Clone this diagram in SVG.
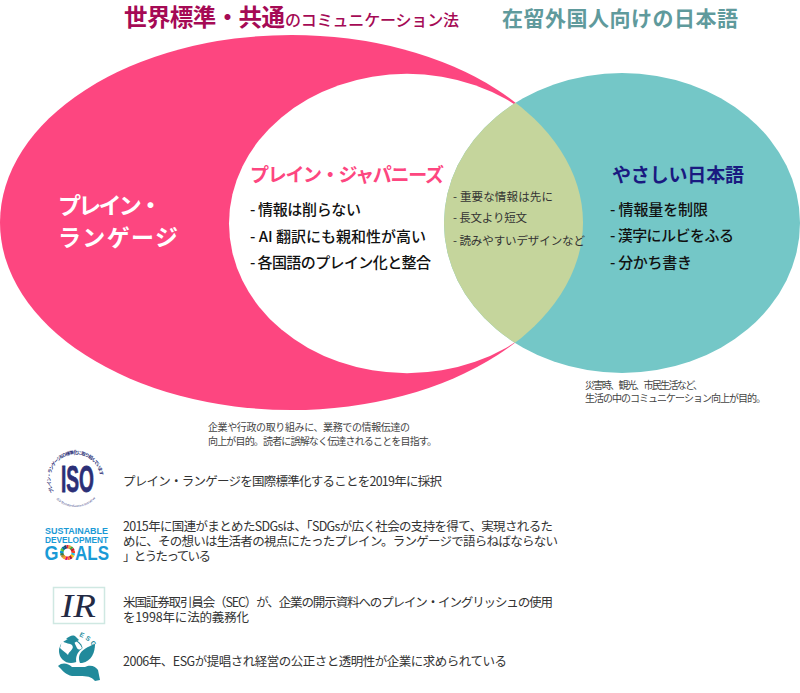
<svg xmlns="http://www.w3.org/2000/svg" width="800" height="693" viewBox="0 0 800 693">
<style>
text{font-family:"Noto Sans CJK JP","Noto Sans",sans-serif;fill:#222}
.h{font-weight:700}
.b{font-size:15px;font-weight:500;fill:#111}
.m{font-size:11.5px;fill:#333}
.s{font-size:10px;fill:#444}
.n{font-size:12.500px;fill:#333}
.logo{font-family:"Liberation Sans",sans-serif;font-weight:700}
.blue{fill:#1a9ad6}
.navy{fill:#2b2f77}
.esg{fill:#218a9b}
</style>
<defs><clipPath id="pk"><ellipse cx="291.500" cy="222.500" rx="291.500" ry="187.500"/></clipPath></defs>
<g id="venn">
<ellipse cx="291.500" cy="222.500" rx="291.500" ry="187.500" fill="#fd4680"/>
<ellipse cx="407" cy="223.500" rx="178" ry="149.700" fill="#fff"/>
<ellipse cx="622" cy="223" rx="178" ry="150" fill="#74c7c7"/>
<ellipse cx="622" cy="223" rx="178" ry="150" fill="#c5d59c" clip-path="url(#pk)"/>
</g>
<g id="titles">
<text x="124" y="26" class="h" font-size="23.500" textLength="161" style="fill:#a50a55">世界標準・共通</text>
<text x="285" y="26" font-size="16" font-weight="500" textLength="174" style="fill:#a50a55">のコミュニケーション法</text>
<text x="502" y="26" font-size="21" font-weight="700" textLength="236" style="fill:#5f9a9c">在留外国人向けの日本語</text>
</g>
<g id="plain-language">
<text x="58" y="213.500" class="h" font-size="23" textLength="104" style="fill:#fff">プレイン・</text>
<text x="58" y="245.500" class="h" font-size="23" textLength="120" style="fill:#fff">ランゲージ</text>
<text x="208" y="431" class="s" textLength="202">企業や行政の取り組みに、業務での情報伝達の</text>
<text x="208" y="445" class="s" textLength="229">向上が目的。読者に誤解なく伝達されることを目指す。</text>
</g>
<g id="plain-japanese">
<text x="250" y="182" class="h" font-size="19" textLength="194" style="fill:#fd4680">プレイン・ジャパニーズ</text>
<text x="250" y="215" class="b" textLength="111">- 情報は削らない</text>
<text x="250" y="242" class="b" textLength="176">- AI 翻訳にも親和性が高い</text>
<text x="250" y="268" class="b" textLength="181">- 各国語のプレイン化と整合</text>
</g>
<g id="overlap">
<text x="453" y="201" class="m" textLength="100">- 重要な情報は先に</text>
<text x="453" y="222" class="m" textLength="74">- 長文より短文</text>
<text x="453" y="245" class="m" textLength="132">- 読みやすいデザインなど</text>
</g>
<g id="easy-japanese">
<text x="612" y="182" class="h" font-size="19" textLength="132" style="fill:#1a1a80">やさしい日本語</text>
<text x="610" y="215" class="b" textLength="98">- 情報量を制限</text>
<text x="610" y="241" class="b" textLength="124">- 漢字にルビをふる</text>
<text x="610" y="268" class="b" textLength="82">- 分かち書き</text>
<text x="585" y="389" class="s" textLength="118">災害時、観光、市民生活など、</text>
<text x="585" y="402" class="s" textLength="181">生活の中のコミュニケーション向上が目的。</text>
</g>
<g id="iso">
<path id="isoarc" d="M54 492A25 25 0 1 1 97 492" fill="none"/>
<path id="isoarc2" d="M53 495A27 27 0 0 0 98 495" fill="none"/>
<text font-size="4.600" font-weight="700" class="navy" textLength="88"><textPath href="#isoarc">プレイン・ランゲージISO 標準化に取り組んでいます</textPath></text>
<text font-size="3" class="navy" textLength="44"><textPath href="#isoarc2" startOffset="5">ISO Standardization Initiative</textPath></text>
<text x="61" y="492" class="logo navy" font-size="36" textLength="33" lengthAdjust="spacingAndGlyphs" stroke="#2b2f77" stroke-width=".8">ISO</text>
<text x="123" y="486" class="n" textLength="319">プレイン・ランゲージを国際標準化することを2019年に採択</text>
</g>
<g id="sdgs">
<text x="45" y="534" class="logo blue" font-size="9.700" textLength="63" lengthAdjust="spacingAndGlyphs">SUSTAINABLE</text>
<text x="45" y="542.700" class="logo blue" font-size="9.700" textLength="63" lengthAdjust="spacingAndGlyphs">DEVELOPMENT</text>
<text x="44.500" y="559.500" class="logo blue" font-size="20" textLength="14" lengthAdjust="spacingAndGlyphs">G</text>
<text x="75" y="559.500" class="logo blue" font-size="20" textLength="34" lengthAdjust="spacingAndGlyphs">ALS</text>
<g fill="none" stroke-width="2.300">
<path d="M67.500 545v3.500" stroke="#e5243b"/>
<path d="M67.500 545v3.500" stroke="#dda63a" transform="rotate(21.200 67.500 552.500)"/>
<path d="M67.500 545v3.500" stroke="#4c9f38" transform="rotate(42.400 67.500 552.500)"/>
<path d="M67.500 545v3.500" stroke="#c5192d" transform="rotate(63.500 67.500 552.500)"/>
<path d="M67.500 545v3.500" stroke="#ff3a21" transform="rotate(84.700 67.500 552.500)"/>
<path d="M67.500 545v3.500" stroke="#26bde2" transform="rotate(105.900 67.500 552.500)"/>
<path d="M67.500 545v3.500" stroke="#fcc30b" transform="rotate(127.100 67.500 552.500)"/>
<path d="M67.500 545v3.500" stroke="#a21942" transform="rotate(148.200 67.500 552.500)"/>
<path d="M67.500 545v3.500" stroke="#fd6925" transform="rotate(169.400 67.500 552.500)"/>
<path d="M67.500 545v3.500" stroke="#dd1367" transform="rotate(190.600 67.500 552.500)"/>
<path d="M67.500 545v3.500" stroke="#fd9d24" transform="rotate(211.800 67.500 552.500)"/>
<path d="M67.500 545v3.500" stroke="#bf8b2e" transform="rotate(232.900 67.500 552.500)"/>
<path d="M67.500 545v3.500" stroke="#3f7e44" transform="rotate(254.100 67.500 552.500)"/>
<path d="M67.500 545v3.500" stroke="#0a97d9" transform="rotate(275.300 67.500 552.500)"/>
<path d="M67.500 545v3.500" stroke="#56c02b" transform="rotate(296.500 67.500 552.500)"/>
<path d="M67.500 545v3.500" stroke="#00689d" transform="rotate(317.600 67.500 552.500)"/>
<path d="M67.500 545v3.500" stroke="#19486a" transform="rotate(338.800 67.500 552.500)"/>
</g>
<text x="123" y="531" class="n" textLength="430">2015年に国連がまとめたSDGsは、「SDGsが広く社会の支持を得て、実現されるた</text>
<text x="123" y="546" class="n" textLength="435">めに、その想いは生活者の視点にたったプレイン。ランゲージで語らねばならない</text>
<text x="123" y="561" class="n" textLength="88">」とうたっている</text>
</g>
<g id="ir">
<rect x="53.500" y="587.500" width="51" height="36" fill="#fff" stroke="#cfe8e2" stroke-width="1.500"/>
<text x="61" y="617" font-size="33" font-style="italic" textLength="35" lengthAdjust="spacingAndGlyphs" style="font-family:'Liberation Serif',serif;fill:#232a44">IR</text>
<text x="123" y="607" class="n" textLength="430">米国証券取引員会（SEC）が、企業の開示資料へのプレイン・イングリッシュの使用</text>
<text x="123" y="622" class="n" textLength="126">を1998年に法的義務化</text>
</g>
<g id="esg">
<circle cx="71" cy="651" r="12" class="esg"/>
<path d="M62 641C66 644 70 643 72 645C75 649 69 651 68 655C66 653 62 650 60 648ZM74 640C78 642 80 644 82 648C79 651 77 649 76 646C75 644 74 642 74 640Z" fill="#fff"/>
<path class="esg" d="M66 639C70 636 73 634 76 637L79 640L74 643Z"/>
<path d="M77 665C73 653 82 646 97 642C98 653 92 664 80 666Z" fill="#fff"/>
<path class="esg" d="M80 663C76 653 84 648 95 644C95 652 92 661 82 663Z"/>
<path class="esg" d="M58 666C62 662 68 663 72 667L85 667C91 664 96 667 98 670L100 680L95 681C90 675 84 676 72 676C66 675 62 670 58 666Z"/>
<text x="79" y="636" font-size="6.500" class="logo esg" transform="rotate(25 79 636)">E</text>
<text x="85" y="639" font-size="6.500" class="logo esg" transform="rotate(35 85 639)">S</text>
<text x="90" y="643" font-size="6.500" class="logo esg" transform="rotate(50 90 643)">G</text>
<text x="123" y="666" class="n" textLength="384">2006年、ESGが提唱され経営の公正さと透明性が企業に求められている</text>
</g>
</svg>
